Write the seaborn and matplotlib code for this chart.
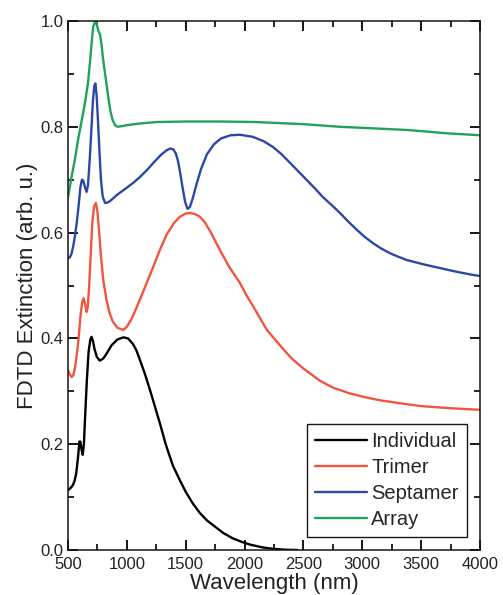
import numpy as np
import pandas as pd
import matplotlib
matplotlib.use("Agg")
import matplotlib.pyplot as plt
import seaborn as sns
from matplotlib.ticker import MultipleLocator, FixedLocator, FixedFormatter

# ---- data ----
ind_wl = [500, 510, 525, 540, 555, 570, 585, 597, 605, 615, 625, 635, 645, 660, 675, 690, 700, 712, 725,
          745, 770, 800, 830, 870, 920, 970, 1010, 1050, 1080, 1110, 1150, 1200, 1240, 1280, 1330, 1390,
          1450, 1500, 1560, 1620, 1680, 1750, 1820, 1900, 1980, 2050, 2150, 2250, 2350, 2450]
ind_ext = [0.113, 0.115, 0.118, 0.122, 0.13, 0.145, 0.175, 0.205, 0.205, 0.19, 0.18, 0.2, 0.25, 0.32,
           0.375, 0.398, 0.403, 0.395, 0.38, 0.365, 0.358, 0.362, 0.372, 0.387, 0.398, 0.402, 0.40, 0.39,
           0.378, 0.36, 0.335, 0.30, 0.27, 0.24, 0.2, 0.16, 0.132, 0.11, 0.088, 0.07, 0.056, 0.044, 0.032,
           0.022, 0.015, 0.01, 0.005, 0.002, 0.0005, 0.0]

tri_wl = [500, 515, 530, 545, 560, 575, 590, 605, 620, 632, 645, 658, 668, 680, 693, 707, 722, 737, 750,
          765, 780, 800, 825, 850, 880, 920, 970, 1000, 1040, 1080, 1110, 1160, 1220, 1280, 1340, 1400,
          1450, 1500, 1540, 1580, 1620, 1660, 1710, 1760, 1800, 1870, 1960, 2020, 2080, 2140, 2190, 2250,
          2320, 2400, 2500, 2640, 2750, 2880, 3000, 3150, 3300, 3500, 3750, 4000]
tri_ext = [0.34, 0.332, 0.327, 0.33, 0.345, 0.37, 0.40, 0.44, 0.468, 0.476, 0.465, 0.45, 0.46, 0.50,
           0.56, 0.62, 0.65, 0.656, 0.64, 0.60, 0.555, 0.51, 0.475, 0.45, 0.432, 0.42, 0.416, 0.422,
           0.437, 0.457, 0.473, 0.50, 0.533, 0.567, 0.597, 0.618, 0.63, 0.636, 0.637, 0.635, 0.63, 0.62,
           0.602, 0.58, 0.563, 0.535, 0.505, 0.48, 0.458, 0.435, 0.416, 0.40, 0.382, 0.362, 0.343, 0.32,
           0.307, 0.297, 0.29, 0.283, 0.278, 0.272, 0.268, 0.265]

sep_wl = [500, 515, 530, 545, 560, 575, 590, 605, 618, 630, 645, 658, 670, 685, 700, 712, 724, 733, 743,
          755, 768, 780, 795, 815, 840, 870, 920, 1000, 1060, 1110, 1170, 1230, 1290, 1340, 1370, 1395,
          1415, 1435, 1455, 1475, 1495, 1515, 1535, 1560, 1590, 1630, 1680, 1740, 1800, 1880, 1960, 2070,
          2160, 2240, 2310, 2386, 2460, 2530, 2600, 2666, 2740, 2811, 2880, 2955, 3020, 3091, 3160, 3235,
          3310, 3380, 3520, 3660, 3800, 3940, 4000]
sep_ext = [0.552, 0.553, 0.56, 0.575, 0.595, 0.62, 0.65, 0.685, 0.70, 0.698, 0.685, 0.677, 0.69, 0.74,
           0.80, 0.85, 0.878, 0.882, 0.86, 0.81, 0.75, 0.70, 0.668, 0.656, 0.657, 0.662, 0.672, 0.685,
           0.695, 0.705, 0.718, 0.733, 0.747, 0.756, 0.759, 0.757, 0.75, 0.735, 0.71, 0.683, 0.658, 0.645,
           0.648, 0.665, 0.69, 0.72, 0.748, 0.767, 0.778, 0.784, 0.785, 0.781, 0.773, 0.762, 0.749, 0.732,
           0.715, 0.699, 0.683, 0.667, 0.652, 0.637, 0.621, 0.605, 0.592, 0.580, 0.570, 0.561, 0.554,
           0.548, 0.540, 0.533, 0.526, 0.520, 0.518]

arr_wl = [500, 530, 560, 585, 615, 644, 670, 690, 705, 715, 729, 737, 748, 760, 772, 785, 797, 815, 840,
          860, 880, 900, 920, 950, 1000, 1100, 1250, 1500, 1800, 2100, 2500, 2810, 3100, 3380, 3550, 3700,
          3850, 4000]
arr_ext = [0.667, 0.705, 0.74, 0.775, 0.81, 0.845, 0.883, 0.93, 0.97, 0.99, 0.998, 1.0, 0.99, 0.98, 0.975,
           0.955, 0.93, 0.90, 0.86, 0.83, 0.812, 0.803, 0.80, 0.801, 0.803, 0.806, 0.809, 0.81, 0.81,
           0.809, 0.805, 0.80, 0.797, 0.794, 0.791, 0.788, 0.786, 0.784]

series_names = ["Individual", "Trimer", "Septamer", "Array"]
series_colors = ["#000000", "#f2553f", "#2b48a6", "#1fa35a"]
x_ticks = [500, 1000, 1500, 2000, 2500, 3000, 3500, 4000]
y_ticks = [0.0, 0.2, 0.4, 0.6, 0.8, 1.0]

frames = []
for name, wl, ext in zip(series_names,
                         [ind_wl, tri_wl, sep_wl, arr_wl],
                         [ind_ext, tri_ext, sep_ext, arr_ext]):
    frames.append(pd.DataFrame({"Wavelength": wl, "Extinction": ext, "Series": name}))
df = pd.concat(frames, ignore_index=True)

sns.set_theme(style="ticks")
plt.rcParams["font.family"] = ["Liberation Sans", "DejaVu Sans"]
tick_col = "#1a1410"

fig = plt.figure(figsize=(5.03, 5.95), dpi=100)
ax = fig.add_axes([68 / 503, 45 / 595, 412 / 503, 529 / 595])

sns.lineplot(data=df, x="Wavelength", y="Extinction", hue="Series",
             hue_order=series_names, palette=series_colors,
             estimator=None, sort=False, linewidth=1.7, ax=ax)

ax.set_xlim(500, 4000)
ax.set_ylim(0, 1.0)
ax.xaxis.set_major_locator(FixedLocator(x_ticks))
ax.xaxis.set_major_formatter(FixedFormatter([str(t) for t in x_ticks]))
ax.yaxis.set_major_locator(FixedLocator(y_ticks))
ax.yaxis.set_major_formatter(FixedFormatter([f"{t:.1f}" for t in y_ticks]))
ax.xaxis.set_minor_locator(MultipleLocator(250))
ax.yaxis.set_minor_locator(MultipleLocator(0.1))
for s in ax.spines.values():
    s.set_visible(True)
    s.set_color(tick_col)
    s.set_linewidth(1.1)

ax.set_xlabel("Wavelength (nm)", fontsize=16, color="#222222", labelpad=1)
ax.set_ylabel("FDTD Extinction (arb. u.)", fontsize=16, color="#222222", labelpad=2)

leg = ax.legend(loc="lower right", fontsize=14.5, handlelength=2.6, handletextpad=0.2,
                labelspacing=0.35, borderpad=0.4, fancybox=False, framealpha=1,
                edgecolor=tick_col, borderaxespad=0.65)
leg.get_frame().set_linewidth(1.0)
for line in leg.get_lines():
    line.set_linewidth(1.7)

# ticks: inward on all four sides (set last)
ax.tick_params(which="major", direction="in", top=True, right=True, bottom=True, left=True,
               color=tick_col, length=7, width=1.4, labelsize=12, labelcolor="#222222")
ax.tick_params(which="minor", direction="in", top=True, right=True, bottom=True, left=True,
               color=tick_col, length=4, width=1.3)
ax.tick_params(axis="x", which="major", pad=5)
ax.tick_params(axis="y", which="major", pad=3)

fig.savefig("out.png", dpi=100)
